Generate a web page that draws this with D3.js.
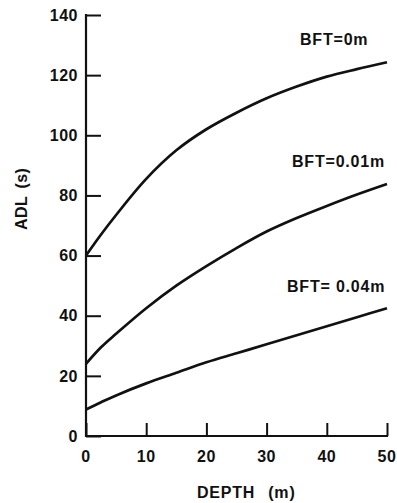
<!DOCTYPE html>
<html>
<head>
<meta charset="utf-8">
<script src="https://cdn.jsdelivr.net/npm/d3@7"></script>
<style>
  body { margin: 0; background: #fff; }
  text { font-family: "Liberation Sans", Arial, sans-serif; font-weight: bold; fill: #111; }
</style>
</head>
<body>
<div id="chart"></div>
<script>
(function() {

  // depth (m) along the x axis
  var depth = [0, 2.5, 5, 10, 15, 20, 25, 30, 35, 40, 45, 50];

  // ADL (s) for each bottom friction thickness
  var adlBft0 = [60, 67, 73.5, 85.5, 95, 102, 107.5, 112.3, 116.2, 119.5, 122, 124.3];
  var adlBft001 = [24, 29.5, 34, 42.5, 50, 56.5, 62.5, 68, 72.5, 76.5, 80.3, 83.8];
  var adlBft004 = [8.8, 11.2, 13.5, 17.5, 21, 24.5, 27.5, 30.5, 33.5, 36.5, 39.5, 42.5];

  var seriesLabels = ["BFT=0m", "BFT=0.01m", "BFT= 0.04m"];
  var xTicks = [0, 10, 20, 30, 40, 50];
  var yTicks = [0, 20, 40, 60, 80, 100, 120, 140];

  var margin = { top: 15, left: 86, right: 10, bottom: 67 },
  width = 397 - margin.left - margin.right,
  height = 503 - margin.top - margin.bottom;

  var svg = d3.select("#chart")
        .append("svg")
        .attr("width", 397)
        .attr("height", 503)
        .append("g")
        .attr("transform", "translate(" + margin.left + "," + margin.top + ")");

  var x = d3.scaleLinear().domain([0, 50]).range([0, 301]);
  var y = d3.scaleLinear().domain([0, 140]).range([height, 0]);

  // y axis, ticks point into the plot
  var yAxis = svg.append("g")
    .call(d3.axisRight(y).tickValues(yTicks).tickSize(15).tickFormat(""));
  yAxis.select(".domain").remove();
  yAxis.selectAll("line").attr("stroke", "#111").attr("stroke-width", 2);

  svg.append("line")
    .attr("x1", 0).attr("x2", 0)
    .attr("y1", y(140) - 1).attr("y2", y(0) + 1)
    .attr("stroke", "#111").attr("stroke-width", 2.2);

  svg.selectAll(".ylab")
    .data(yTicks)
    .enter().append("text")
    .attr("class", "ylab")
    .attr("x", -8)
    .attr("y", function(d){ return y(d); })
    .attr("dy", "0.36em")
    .attr("text-anchor", "end")
    .style("font-size", "16px")
    .style("letter-spacing", "0.5px")
    .text(function(d){ return d; });

  // x axis, ticks point up
  var xAxis = svg.append("g")
    .attr("transform", "translate(0," + height + ")")
    .call(d3.axisTop(x).tickValues(xTicks).tickSize(13).tickFormat(""));
  xAxis.select(".domain").remove();
  xAxis.selectAll("line").attr("stroke", "#111").attr("stroke-width", 2);

  svg.append("line")
    .attr("x1", -1).attr("x2", x(50) + 1)
    .attr("y1", height).attr("y2", height)
    .attr("stroke", "#111").attr("stroke-width", 2.2);

  svg.selectAll(".xlab")
    .data(xTicks)
    .enter().append("text")
    .attr("class", "xlab")
    .attr("x", function(d){ return x(d); })
    .attr("y", height + 26)
    .attr("text-anchor", "middle")
    .style("font-size", "16px")
    .style("letter-spacing", "0.5px")
    .text(function(d){ return d; });

  var xTitle = svg.append("text")
    .attr("x", 111)
    .attr("y", height + 62)
    .style("font-size", "16px")
    .style("letter-spacing", "0.8px");
  xTitle.append("tspan").text("DEPTH");
  xTitle.append("tspan").attr("dx", 13).text("(m)");

  var yTitle = svg.append("text")
    .attr("transform", "translate(-59,215) rotate(-90)")
    .style("font-size", "16px")
    .style("letter-spacing", "0.5px");
  yTitle.append("tspan").text("ADL");
  yTitle.append("tspan").attr("dx", 7).text("(s)");

  var line = d3.line()
    .x(function(d, i){ return x(depth[i]); })
    .y(function(d){ return y(d); })
    .curve(d3.curveCatmullRom);

  svg.selectAll(".curve")
    .data([adlBft0, adlBft001, adlBft004])
    .enter().append("path")
    .attr("class", "curve")
    .attr("d", line)
    .attr("fill", "none")
    .attr("stroke", "#111")
    .attr("stroke-width", 2.7);

  // curve labels sit above the right end of each line
  var labelPos = [[214, 130], [206, 89.5], [201, 47.9]];
  svg.selectAll(".clab")
    .data(seriesLabels)
    .enter().append("text")
    .attr("class", "clab")
    .attr("x", function(d, i){ return labelPos[i][0]; })
    .attr("y", function(d, i){ return y(labelPos[i][1]); })
    .style("font-size", "16px")
    .style("letter-spacing", "0.8px")
    .style("white-space", "pre")
    .text(function(d){ return d; });

})();
</script>
</body>
</html>
